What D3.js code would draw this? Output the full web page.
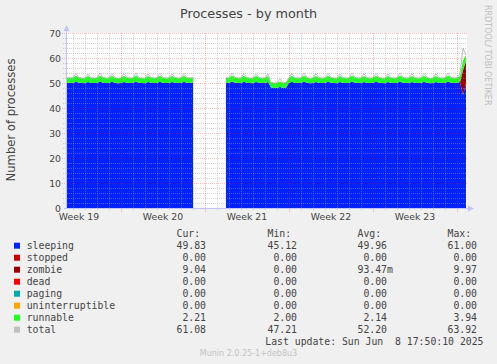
<!DOCTYPE html>
<html>
<head>
<meta charset="utf-8">
<script src="https://cdn.jsdelivr.net/npm/d3@7"></script>
<style>
body { margin: 0; background: #f0f0f0; }
svg { display: block; }
text { font-family: "DejaVu Sans", sans-serif; fill: #444; }
.mono { font-family: "DejaVu Sans Mono", monospace; white-space: pre; }
.grid line { shape-rendering: crispEdges; }
</style>
</head>
<body>
<script>
// samples every 6 hours, first one May 6 2025 06:00
let startTime = Date.UTC(2025, 4, 6, 6)
let stepHours = 6

let sleeping = [
    50.4, 50.0, 50.1,            // May 6
    50.0, 50.5, 50.1, 50.0,      // May 7
    49.9, 50.4, 50.0, 50.0,
    50.0, 50.6, 50.1, 50.0,
    50.0, 50.5, 50.0, 49.9,      // May 10
    50.0, 50.4, 50.1, 50.0,
    50.0, 50.6, 50.0, 50.0,
    49.9, 50.4, 50.1, 50.0,
    50.0, 50.5, 50.0, 50.0,
    50.0, 50.4, 50.1, 50.0,      // May 15
    50.0, 50.5, 50.0, 50.1,
    50.0, null, null, null,      // May 17 - no data
    null, null, null, null,
    null, null, null, 50.1,      // May 19
    50.0, 50.6, 50.1, 50.0,      // May 20
    50.0, 50.5, 50.0, 50.0,
    49.9, 50.4, 50.1, 50.0,
    50.0, 50.4, 48.2, 48.0,      // May 23
    48.1, 48.4, 48.0, 48.2,
    50.0, 50.5, 50.0, 50.0,      // May 25
    50.0, 50.6, 50.1, 49.9,
    50.0, 50.4, 50.0, 50.0,
    50.0, 50.5, 50.1, 50.0,
    49.9, 50.4, 50.0, 50.0,
    50.0, 50.6, 50.1, 50.0,      // May 30
    50.0, 50.4, 50.0, 50.0,
    50.0, 50.5, 50.1, 50.0,      // Jun 1
    49.9, 50.4, 50.0, 50.0,
    50.0, 50.6, 50.1, 50.0,
    50.0, 50.4, 50.0, 50.0,
    50.0, 50.5, 50.1, 49.9,      // Jun 5
    50.0, 50.4, 50.0, 50.0,
    50.0, 50.6, 50.1, 50.0,
    50.0, 50.4, 45.12, 49.83     // Jun 8
]
let zombie = [
    0, 0, 0,
    0, 0, 0, 0,
    0, 0, 0, 0,
    0, 0, 0, 0,
    0, 0, 0, 0,
    0, 0, 0, 0,
    0, 0, 0, 0,
    0, 0, 0, 0,
    0, 0, 0, 0,
    0, 0, 0, 0,
    0, 0, 0, 0,
    0, null, null, null,
    null, null, null, null,
    null, null, null, 0,
    0, 0, 0, 0,
    0, 0, 0, 0,
    0, 0, 0, 0,
    0, 0, 0, 0,
    0, 0, 0, 0,
    0, 0, 0, 0,
    0, 0, 0, 0,
    0, 0, 0, 0,
    0, 0, 0, 0,
    0, 0, 0, 0,
    0, 0, 0, 0,
    0, 0, 0, 0,
    0, 0, 0, 0,
    0, 0, 0, 0,
    0, 0, 0, 0,
    0, 0, 0, 0,
    0, 0, 0, 0,
    0, 0, 0, 0,
    0, 0, 0, 0,
    0, 0, 9.97, 9.04
]
let runnable = [
    2.4, 2.1, 2.0,
    2.1, 2.4, 2.1, 2.0,
    2.1, 2.4, 2.1, 2.0,
    2.1, 2.4, 2.1, 2.0,
    2.1, 2.4, 2.1, 2.0,
    2.1, 2.4, 2.1, 2.0,
    2.1, 2.4, 2.1, 2.0,
    2.1, 2.4, 2.1, 2.0,
    2.1, 2.4, 2.1, 2.0,
    2.1, 2.4, 2.1, 2.0,
    2.1, 2.4, 2.1, 2.0,
    2.1, null, null, null,
    null, null, null, null,
    null, null, null, 2.0,
    2.1, 2.4, 2.1, 2.0,
    2.1, 2.4, 2.1, 2.0,
    2.1, 2.4, 2.1, 2.0,
    2.1, 2.4, 2.0, 2.0,
    2.0, 2.2, 2.0, 2.0,
    2.1, 2.4, 2.1, 2.0,
    2.1, 2.4, 2.1, 2.0,
    2.1, 2.4, 2.1, 2.0,
    2.1, 2.4, 2.1, 2.0,
    2.1, 2.4, 2.1, 2.0,
    2.1, 2.4, 2.1, 2.0,
    2.1, 2.4, 2.1, 2.0,
    2.1, 2.4, 2.1, 2.0,
    2.1, 2.4, 2.1, 2.0,
    2.1, 2.4, 2.1, 2.0,
    2.1, 2.4, 2.1, 2.0,
    2.1, 2.4, 2.1, 2.0,
    2.1, 2.4, 2.1, 2.0,
    2.1, 2.4, 2.1, 2.0,
    2.1, 2.4, 3.94, 2.21
]
let total = [
    53.7, 52.1, 52.1,
    52.1, 53.9, 52.2, 52.0,
    52.0, 53.6, 52.1, 52.0,
    52.1, 54.0, 52.2, 52.0,
    52.1, 53.8, 52.1, 51.9,
    52.1, 53.7, 52.2, 52.0,
    52.1, 54.0, 52.1, 52.0,
    52.0, 53.6, 52.2, 52.0,
    52.1, 53.9, 52.1, 52.0,
    52.1, 53.7, 52.2, 52.0,
    52.1, 53.8, 52.1, 52.1,
    52.1, null, null, null,
    null, null, null, null,
    null, null, null, 52.1,
    52.1, 54.0, 52.2, 52.0,
    52.1, 53.8, 52.1, 52.0,
    52.0, 53.6, 52.2, 52.0,
    52.1, 53.7, 50.2, 50.0,
    50.1, 51.6, 50.0, 50.2,
    52.1, 53.8, 52.1, 52.0,
    52.1, 54.0, 52.2, 51.9,
    52.1, 53.7, 52.1, 52.0,
    52.1, 53.8, 52.2, 52.0,
    52.0, 53.6, 52.1, 52.0,
    52.1, 54.0, 52.2, 52.0,
    52.1, 53.7, 52.1, 52.0,
    52.1, 53.8, 52.2, 52.0,
    52.0, 53.6, 52.1, 52.0,
    52.1, 54.0, 52.2, 52.0,
    52.1, 53.7, 52.1, 52.0,
    52.1, 53.8, 52.2, 51.9,
    52.1, 53.7, 52.1, 52.0,
    52.1, 54.0, 52.2, 52.0,
    52.1, 53.7, 63.92, 61.08
]

let weekLabels = ["Week 19", "Week 20", "Week 21", "Week 22", "Week 23"]
let weekStarts = [Date.UTC(2025, 4, 4), Date.UTC(2025, 4, 11), Date.UTC(2025, 4, 18),
    Date.UTC(2025, 4, 25), Date.UTC(2025, 5, 1)]

let names = ["sleeping", "stopped", "zombie", "dead", "paging", "uninterruptible", "runnable", "total"]
let colors = ["#0022ff", "#cc0000", "#990000", "#ff0000", "#00aaaa", "#ffa500", "#22ff22", "#c0c0c0"]
let curVals = [49.83, 0, 9.04, 0, 0, 0, 2.21, 61.08]
let minVals = [45.12, 0, 0, 0, 0, 0, 2.00, 47.21]
let avgVals = [49.96, 0, 0.09347, 0, 0, 0, 2.14, 52.20]
let maxVals = [61.00, 0, 9.97, 0, 0, 0, 3.94, 63.92]

let width = 497
let height = 364

let svg = d3.select("body").append("svg")
    .attr("width", width)
    .attr("height", height)

let x = d3.scaleUtc()
    .domain([new Date(Date.UTC(2025, 4, 6, 12)), new Date(Date.UTC(2025, 5, 8, 20))])
    .range([67, 467])
let y = d3.scaleLinear().domain([0, 70]).range([208, 33])

let rows = sleeping.map(function(d, i) {
    return {
        time: new Date(startTime + i * stepHours * 3600000),
        ok: d !== null,
        sleeping: d, zombie: zombie[i], runnable: runnable[i], total: total[i]
    }
})

svg.append("rect").attr("x", 67).attr("y", 33).attr("width", 400).attr("height", 175).attr("fill", "#fff")

svg.append("clipPath").attr("id", "plot")
    .append("rect").attr("x", 67).attr("y", 20).attr("width", 400).attr("height", 188)

let stack = d3.stack().keys(["sleeping", "zombie", "runnable"])
    .value(function(d, k) { return d[k] || 0 })
let series = stack(rows)
let stackColors = { sleeping: colors[0], zombie: colors[2], runnable: colors[6] }

let area = d3.area()
    .defined(function(d) { return d.data.ok })
    .x(function(d) { return x(d.data.time) })
    .y0(function(d) { return y(d[0]) })
    .y1(function(d) { return y(d[1]) })

let plot = svg.append("g").attr("clip-path", "url(#plot)")

plot.selectAll("path.area")
    .data(series)
    .enter()
    .append("path")
    .attr("class", "area")
    .attr("d", area)
    .attr("fill", function(s) { return stackColors[s.key] })

plot.append("path")
    .datum(rows)
    .attr("d", d3.line()
        .defined(function(d) { return d.total !== null })
        .x(function(d) { return x(d.time) })
        .y(function(d) { return y(d.total) }))
    .attr("fill", "none")
    .attr("stroke", colors[7])
    .attr("stroke-width", 1)

// grid, drawn over the graph like rrdtool does
let grid = svg.append("g").attr("class", "grid")
let minorY = y.ticks(35).filter(function(v) { return v % 10 !== 0 })
let majorY = y.ticks(7).filter(function(v) { return v > 0 })
let days = x.ticks(d3.utcDay).filter(function(t) { return t.getUTCDay() !== 0 })
let sundays = x.ticks(d3.utcSunday)

grid.selectAll("line.hmin").data(minorY).enter().append("line")
    .attr("x1", 63).attr("x2", 467)
    .attr("y1", function(v) { return y(v) }).attr("y2", function(v) { return y(v) })
    .attr("stroke", "#a0a0a0").attr("stroke-opacity", 0.45).attr("stroke-dasharray", "1,1")
grid.selectAll("line.vmin").data(days).enter().append("line")
    .attr("x1", function(t) { return Math.round(x(t)) }).attr("x2", function(t) { return Math.round(x(t)) })
    .attr("y1", 33).attr("y2", 211)
    .attr("stroke", "#a0a0a0").attr("stroke-opacity", 0.45).attr("stroke-dasharray", "1,1")
grid.selectAll("line.hmaj").data(majorY).enter().append("line")
    .attr("x1", 62).attr("x2", 467)
    .attr("y1", function(v) { return y(v) }).attr("y2", function(v) { return y(v) })
    .attr("stroke", "#ff0000").attr("stroke-opacity", 0.25).attr("stroke-dasharray", "1,1")
grid.selectAll("line.vmaj").data(sundays).enter().append("line")
    .attr("x1", function(t) { return Math.round(x(t)) }).attr("x2", function(t) { return Math.round(x(t)) })
    .attr("y1", 33).attr("y2", 212)
    .attr("stroke", "#ff0000").attr("stroke-opacity", 0.3).attr("stroke-dasharray", "1,1")

// axes with arrows
let axisColor = "#c4c4f4"
svg.append("line").attr("x1", 66.5).attr("x2", 66.5).attr("y1", 209).attr("y2", 28)
    .attr("stroke", axisColor)
svg.append("path").attr("d", "M63.5,31L69.5,31L66.5,25Z").attr("fill", axisColor)
svg.append("line").attr("x1", 64).attr("x2", 470).attr("y1", 208.5).attr("y2", 208.5)
    .attr("stroke", axisColor)
svg.append("path").attr("d", "M468,205.5L468,211.5L474,208.5Z").attr("fill", axisColor)

// tick labels
svg.selectAll("text.ylab").data(y.ticks(7)).enter().append("text")
    .attr("x", 61).attr("y", function(v) { return y(v) + 3.5 })
    .attr("text-anchor", "end").attr("font-size", "9.3px")
    .text(function(v) { return v })

svg.selectAll("text.xlab").data(weekLabels).enter().append("text")
    .attr("x", function(d, i) { return x(new Date(weekStarts[i] + 3.5 * 86400000)) })
    .attr("y", 219.5)
    .attr("text-anchor", "middle").attr("font-size", "9.3px")
    .text(function(d) { return d })

svg.append("text").attr("x", 248.5).attr("y", 18.3)
    .attr("text-anchor", "middle").attr("font-size", "12.8px")
    .text("Processes - by month")

svg.append("text").attr("transform", "translate(15,120) rotate(-90)")
    .attr("text-anchor", "middle").attr("font-size", "11.6px")
    .text("Number of processes")

svg.append("text").attr("transform", "translate(485,5) rotate(90)")
    .attr("font-size", "8px").style("fill", "#bdbdbd")
    .text("RRDTOOL/ TOBI OETIKER")

// legend
function fmt(v) {
    if (v !== 0 && Math.abs(v) < 1) return (v * 1000).toFixed(2) + "m"
    return v.toFixed(2)
}
let cw = 5.9
let colEnds = [206, 297, 387, 477]
let headers = ["Cur:", "Min:", "Avg:", "Max:"]
let cols = [curVals, minVals, avgVals, maxVals]

svg.selectAll("text.head").data(headers).enter().append("text")
    .attr("class", "mono").attr("font-size", "9.8px")
    .attr("x", function(d, i) { return colEnds[i] - 5 * cw })
    .attr("y", 237.2)
    .text(function(d) { return d })

let leg = svg.selectAll("g.leg").data(names).enter().append("g")
    .attr("transform", function(d, i) { return "translate(0," + (245.7 + i * 12) + ")" })

leg.append("rect").attr("x", 14).attr("y", -3).attr("width", 6).attr("height", 6)
    .attr("fill", function(d, i) { return colors[i] })
leg.append("text").attr("class", "mono").attr("font-size", "9.8px")
    .attr("x", 26.7).attr("y", 3.5)
    .text(function(d) { return d })

cols.forEach(function(vals, c) {
    leg.append("text").attr("class", "mono").attr("font-size", "9.8px")
        .attr("text-anchor", "end")
        .attr("x", function(d, i) { return colEnds[c] + (fmt(vals[i]).endsWith("m") ? cw : 0) })
        .attr("y", 3.5)
        .text(function(d, i) { return fmt(vals[i]) })
})

svg.append("text").attr("class", "mono").attr("font-size", "9.8px")
    .attr("x", 483.5).attr("y", 345.2).attr("text-anchor", "end")
    .text("Last update: Sun Jun  8 17:50:10 2025")

svg.append("text").attr("x", 248.5).attr("y", 356)
    .attr("text-anchor", "middle").attr("font-size", "8px").style("fill", "#c4c4c4")
    .text("Munin 2.0.25-1+deb8u3")
</script>
</body>
</html>
